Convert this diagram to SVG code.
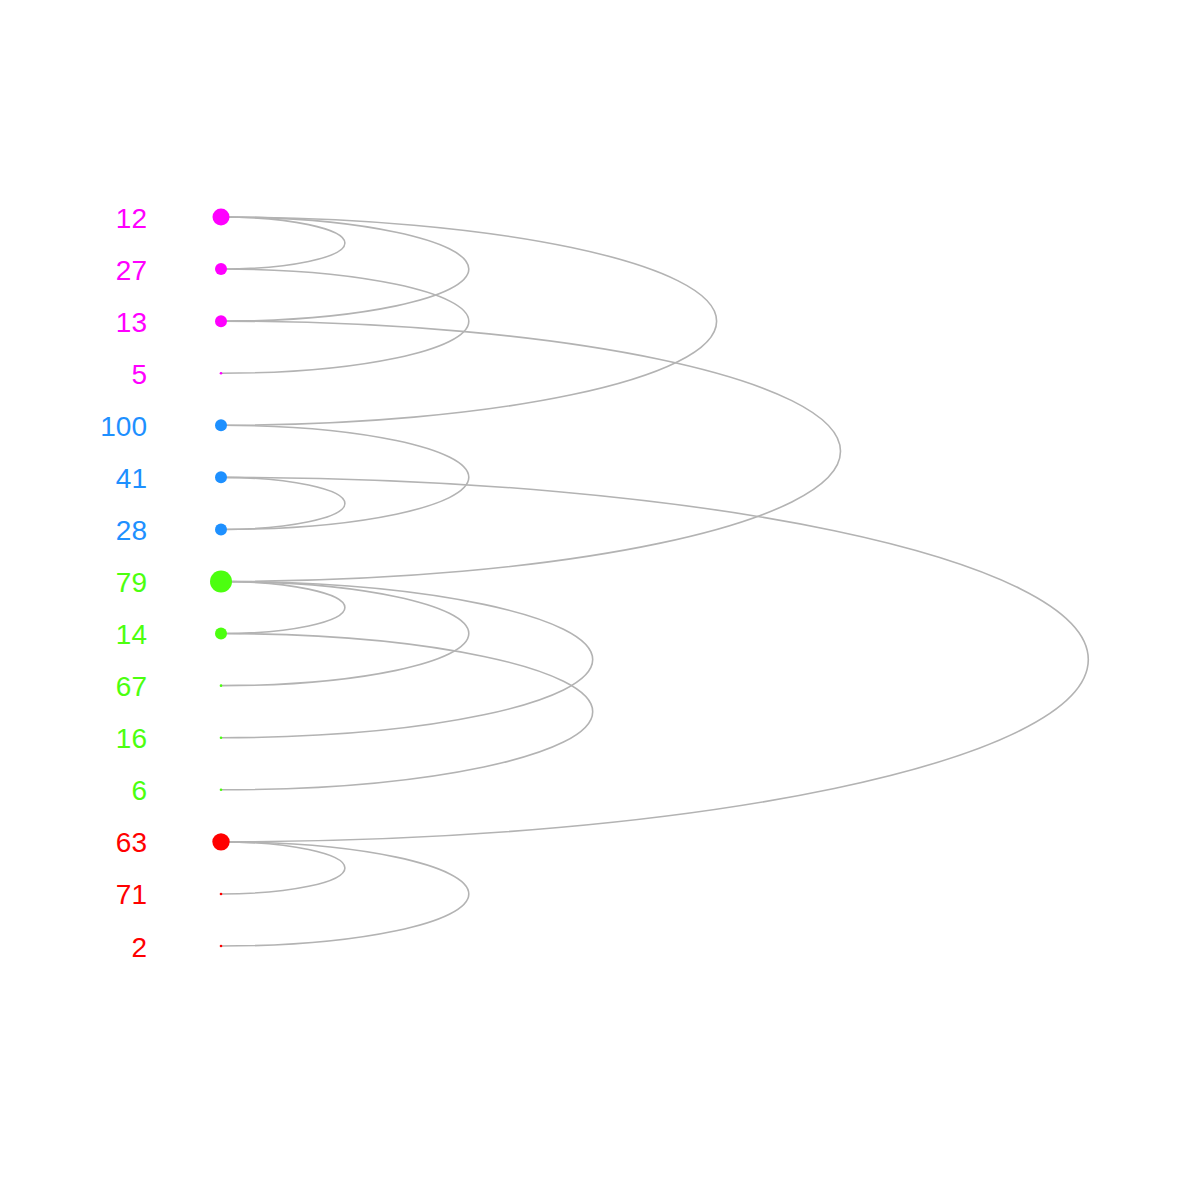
<svg xmlns="http://www.w3.org/2000/svg" width="1200" height="1200" viewBox="0 0 1200 1200">
<style>
.e{fill:none;stroke:#b3b3b3;stroke-width:1.6}
text{font-family:"Liberation Sans",Arial,sans-serif;font-size:28px;text-anchor:end}
.m{fill:#ff00ff}.b{fill:#1e90ff}.g{fill:#4cff0f}.r{fill:#ff0000}
</style>
<rect width="1200" height="1200" fill="#ffffff"/>
<g id="edges">
<path class="e" d="M221 217 C289.43 217 344.9 228.66 344.9 243.04 C344.9 257.41 289.43 269.07 221 269.07"/>
<path class="e" d="M221 217 C357.86 217 468.8 240.31 468.8 269.07 C468.8 297.83 357.86 321.14 221 321.14"/>
<path class="e" d="M221 217 C494.72 217 716.6 263.62 716.6 321.14 C716.6 378.66 494.72 425.29 221 425.29"/>
<path class="e" d="M221 269.07 C357.86 269.07 468.8 292.38 468.8 321.14 C468.8 349.9 357.86 373.21 221 373.21"/>
<path class="e" d="M221 321.14 C563.15 321.14 840.5 379.42 840.5 451.32 C840.5 523.22 563.15 581.5 221 581.5"/>
<path class="e" d="M221 425.29 C357.86 425.29 468.8 448.6 468.8 477.36 C468.8 506.12 357.86 529.43 221 529.43"/>
<path class="e" d="M221 477.36 C289.43 477.36 344.9 489.02 344.9 503.4 C344.9 517.78 289.43 529.43 221 529.43"/>
<path class="e" d="M221 477.36 C700.01 477.36 1088.3 558.95 1088.3 659.61 C1088.3 760.27 700.01 841.86 221 841.86"/>
<path class="e" d="M221 581.5 C289.43 581.5 344.9 593.16 344.9 607.54 C344.9 621.92 289.43 633.57 221 633.57"/>
<path class="e" d="M221 581.5 C357.86 581.5 468.8 604.81 468.8 633.57 C468.8 662.33 357.86 685.64 221 685.64"/>
<path class="e" d="M221 581.5 C426.29 581.5 592.7 616.47 592.7 659.61 C592.7 702.75 426.29 737.71 221 737.71"/>
<path class="e" d="M221 633.57 C426.29 633.57 592.7 668.54 592.7 711.68 C592.7 754.82 426.29 789.79 221 789.79"/>
<path class="e" d="M221 841.86 C289.43 841.86 344.9 853.52 344.9 867.9 C344.9 882.28 289.43 893.93 221 893.93"/>
<path class="e" d="M221 841.86 C357.86 841.86 468.8 865.17 468.8 893.93 C468.8 922.69 357.86 946 221 946"/>
</g>
<g id="n12"><circle class="m" cx="221" cy="217" r="8.5"/><text class="m" x="147" y="228">12</text></g>
<g id="n27"><circle class="m" cx="221" cy="269.07" r="6"/><text class="m" x="147" y="280">27</text></g>
<g id="n13"><circle class="m" cx="221" cy="321.14" r="6"/><text class="m" x="147" y="332">13</text></g>
<g id="n5"><circle class="m" cx="221" cy="373.21" r="1.3"/><text class="m" x="147" y="384">5</text></g>
<g id="n100"><circle class="b" cx="221" cy="425.29" r="6"/><text class="b" x="147" y="436">100</text></g>
<g id="n41"><circle class="b" cx="221" cy="477.36" r="6"/><text class="b" x="147" y="488">41</text></g>
<g id="n28"><circle class="b" cx="221" cy="529.43" r="6"/><text class="b" x="147" y="540">28</text></g>
<g id="n79"><circle class="g" cx="221" cy="581.5" r="11"/><text class="g" x="147" y="592">79</text></g>
<g id="n14"><circle class="g" cx="221" cy="633.57" r="6"/><text class="g" x="147" y="644">14</text></g>
<g id="n67"><circle class="g" cx="221" cy="685.64" r="1.3"/><text class="g" x="147" y="696">67</text></g>
<g id="n16"><circle class="g" cx="221" cy="737.71" r="1.3"/><text class="g" x="147" y="748">16</text></g>
<g id="n6"><circle class="g" cx="221" cy="789.79" r="1.3"/><text class="g" x="147" y="800">6</text></g>
<g id="n63"><circle class="r" cx="221" cy="841.86" r="8.7"/><text class="r" x="147" y="852">63</text></g>
<g id="n71"><circle class="r" cx="221" cy="893.93" r="1.3"/><text class="r" x="147" y="904">71</text></g>
<g id="n2"><circle class="r" cx="221" cy="946" r="1.3"/><text class="r" x="147" y="957">2</text></g>
</svg>
